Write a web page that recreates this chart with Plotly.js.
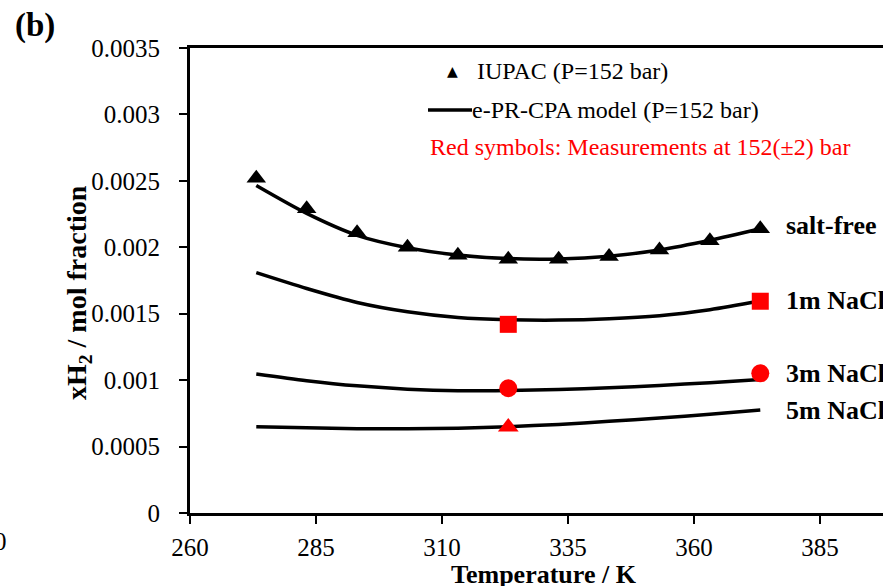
<!DOCTYPE html>
<html>
<head>
<meta charset="utf-8">
<script src="https://cdn.plot.ly/plotly-3.0.1.min.js"></script>
<style>html,body{margin:0;padding:0;background:#fff;}#chart{width:883px;height:586px;}</style>
</head>
<body>
<div id="chart"></div>
<script>
// Temperatures (K)
const temps = [273.15, 283.15, 293.15, 303.15, 313.15, 323.15, 333.15, 343.15, 353.15, 363.15, 373.15];
// IUPAC data, salt-free (P=152 bar)
const iupacSaltFree = [0.00252, 0.00229, 0.00211, 0.00200, 0.00194, 0.00191, 0.00191, 0.00193, 0.00198, 0.00205, 0.00214];
// e-PR-CPA model curves
const modelSaltFree = [0.002465, 0.002255, 0.002090, 0.001997, 0.001942, 0.001915, 0.001912, 0.001933, 0.001980, 0.002053, 0.002140];
const model1m = [0.001809, 0.001690, 0.001585, 0.001515, 0.001472, 0.001455, 0.001452, 0.001462, 0.001485, 0.001530, 0.001595];
const model3m = [0.001046, 0.000996, 0.000957, 0.000932, 0.000920, 0.000922, 0.000929, 0.000943, 0.000960, 0.000981, 0.001005];
const model5m = [0.000650, 0.000641, 0.000635, 0.000634, 0.000638, 0.000650, 0.000667, 0.000690, 0.000715, 0.000743, 0.000775];
// Red measurements at 152(±2) bar
const measT1m = [323.15, 373.15];
const meas1m = [0.00142, 0.001594];
const measT3m = [323.15, 373.15];
const meas3m = [0.000939, 0.001051];
const measT5m = [323.15];
const meas5m = [0.000647];
// Ticks and labels
const xTickVals = [260, 285, 310, 335, 360, 385];
const yTickVals = [0, 0.0005, 0.001, 0.0015, 0.002, 0.0025, 0.003, 0.0035];
const yTickText = ["0", "0.0005", "0.001", "0.0015", "0.002", "0.0025", "0.003", "0.0035"];
const seriesLabels = ["salt-free", "1m NaCl", "3m NaCl", "5m NaCl"];

const FONT = "'Liberation Serif', 'Times New Roman', Times, serif";
const lineStyle = {color: "#000", width: 3.5, shape: "spline", smoothing: 0.8};

const traces = [
  {x: temps, y: modelSaltFree, mode: "lines", line: lineStyle, showlegend: false, hoverinfo: "skip"},
  {x: temps, y: model1m, mode: "lines", line: lineStyle, showlegend: false, hoverinfo: "skip"},
  {x: temps, y: model3m, mode: "lines", line: lineStyle, showlegend: false, hoverinfo: "skip"},
  {x: temps, y: model5m, mode: "lines", line: lineStyle, showlegend: false, hoverinfo: "skip"},
  {x: temps, y: iupacSaltFree, mode: "markers", marker: {symbol: "triangle-up", size: 17, color: "#000"}, showlegend: false, cliponaxis: false},
  {x: measT1m, y: meas1m, mode: "markers", marker: {symbol: "square", size: 17, color: "#ff0000"}, showlegend: false, cliponaxis: false},
  {x: measT3m, y: meas3m, mode: "markers", marker: {symbol: "circle", size: 18, color: "#ff0000"}, showlegend: false, cliponaxis: false},
  {x: measT5m, y: meas5m, mode: "markers", marker: {symbol: "triangle-up", size: 18, color: "#ff0000"}, showlegend: false, cliponaxis: false}
];

const W = 693, H = 465, L = 190, T = 48;
const px = v => (v - L) / W;
const py = v => (T + H - v) / H;

const labelY = [225, 300, 373, 410];
const annotations = seriesLabels.map((s, i) => ({
  text: "<b>" + s + "</b>", xref: "paper", yref: "paper", x: px(784), y: py(labelY[i]),
  xanchor: "left", yanchor: "middle", showarrow: false,
  font: {family: FONT, size: 26, color: "#000"}
}));

annotations.push(
  {text: "<b>(b)</b>", xref: "paper", yref: "paper", x: px(35), y: py(26), xanchor: "center", yanchor: "middle", showarrow: false, font: {family: FONT, size: 33, color: "#000"}},
  {text: "0", xref: "paper", yref: "paper", x: px(0.5), y: py(541), xanchor: "center", yanchor: "middle", showarrow: false, font: {family: FONT, size: 25, color: "#000"}},
  {text: "<b>Temperature / K</b>", xref: "paper", yref: "paper", x: px(544), y: py(574), xanchor: "center", yanchor: "middle", showarrow: false, font: {family: FONT, size: 26, color: "#000"}},
  {text: "<b>xH<sub>2</sub> / mol fraction</b>", xref: "paper", yref: "paper", x: px(78), y: py(292), xanchor: "center", yanchor: "middle", textangle: -90, showarrow: false, font: {family: FONT, size: 28, color: "#000"}},
  {text: "▲", xref: "paper", yref: "paper", x: px(452), y: py(71), xanchor: "center", yanchor: "middle", showarrow: false, font: {family: "DejaVu Sans", size: 14, color: "#000"}},
  {text: "IUPAC (P=152 bar)", xref: "paper", yref: "paper", x: px(475), y: py(71), xanchor: "left", yanchor: "middle", showarrow: false, font: {family: FONT, size: 24, color: "#000"}},
  {text: "e-PR-CPA model (P=152 bar)", xref: "paper", yref: "paper", x: px(470), y: py(110), xanchor: "left", yanchor: "middle", showarrow: false, font: {family: FONT, size: 24, color: "#000"}},
  {text: "Red symbols: Measurements at 152(±2) bar", xref: "paper", yref: "paper", x: px(428), y: py(147), xanchor: "left", yanchor: "middle", showarrow: false, font: {family: FONT, size: 24, color: "#ff0000"}}
);

const layout = {
  width: 883, height: 586,
  margin: {l: L, r: 0, t: T, b: 586 - T - H, pad: 0},
  paper_bgcolor: "#fff", plot_bgcolor: "#fff",
  showlegend: false,
  font: {family: FONT, size: 25, color: "#000"},
  xaxis: {
    range: [260, 397.5], tickmode: "array", tickvals: xTickVals,
    showline: true, linecolor: "#000", linewidth: 3, mirror: true,
    ticks: "outside", ticklen: 8, tickwidth: 2, tickcolor: "#000",
    showgrid: false, zeroline: false, ticklabelstandoff: 2,
    tickfont: {family: FONT, size: 25, color: "#000"}
  },
  yaxis: {
    range: [0, 0.0035], tickmode: "array", tickvals: yTickVals, ticktext: yTickText,
    showline: true, linecolor: "#000", linewidth: 3,
    ticks: "outside", ticklen: 8, tickwidth: 2, tickcolor: "#000",
    showgrid: false, zeroline: false, ticklabelstandoff: 14,
    tickfont: {family: FONT, size: 25, color: "#000"}
  },
  shapes: [
    {type: "line", xref: "paper", yref: "paper", x0: px(428), x1: px(472), y0: py(110), y1: py(110), line: {color: "#000", width: 3.5}}
  ],
  annotations: annotations
};

Plotly.newPlot("chart", traces, layout, {staticPlot: true, displayModeBar: false});
</script>
</body>
</html>
